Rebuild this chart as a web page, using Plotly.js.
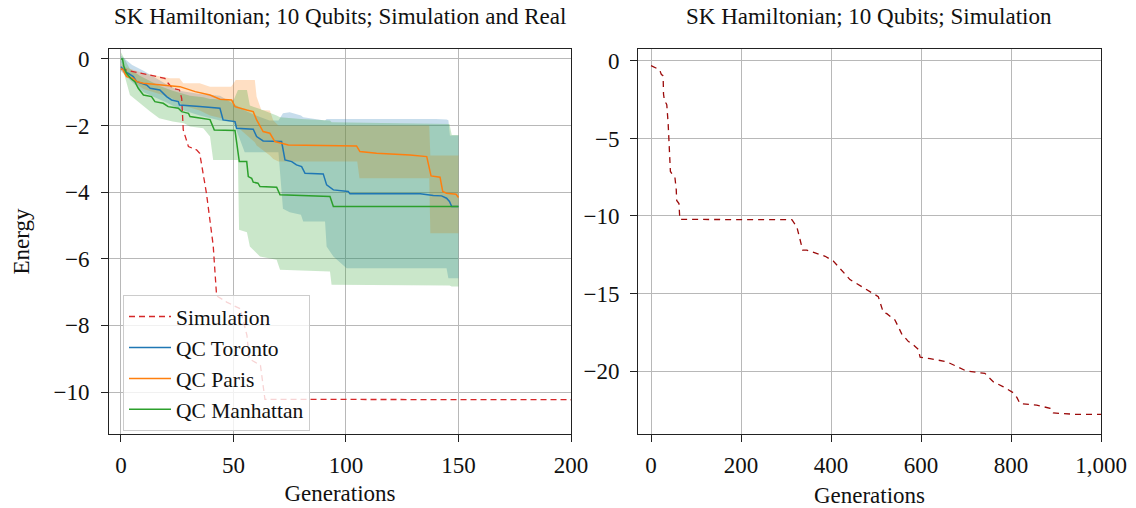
<!DOCTYPE html>
<html>
<head>
<meta charset="utf-8">
<script src="https://cdn.plot.ly/plotly-3.0.1.min.js"></script>
<style>html,body{margin:0;padding:0;background:#fff}#chart{width:1136px;height:508px}</style>
</head>
<body>
<div id="chart"></div>
<script>
// ---- Simulation (shared by both panels) ----
const simX = [0,5.5,13,19.5,21,23,26,27,27.7,30,33.6,35,38,41,42.5,43,47,53,56,57,62,64,313,324,337,346,387,405,442,487,505,516,524,542,557,572,579,594,598,620,657,679,701,742,761,782,805,813,820,857,887,894,946,1000];
const simY = [-0.3,-0.38,-0.48,-0.58,-0.73,-0.88,-0.93,-1.18,-2.13,-2.63,-2.73,-2.83,-4.03,-5.6,-7.1,-7.13,-7.3,-7.5,-8.3,-9.0,-9.2,-10.22,-10.24,-10.7,-12.2,-12.2,-12.6,-12.9,-14.1,-14.9,-15.2,-16.2,-16.3,-16.7,-17.6,-18.1,-18.2,-18.6,-19.1,-19.2,-19.4,-19.7,-20.0,-20.15,-20.7,-21.0,-21.4,-21.7,-22.1,-22.2,-22.4,-22.7,-22.8,-22.8];

// ---- QC Toronto ----
const torX = [0,1.8,3.3,5.5,7,11.4,13,17.3,20.3,22.5,25.5,26,35,44,45.4,50.7,51.4,58.8,60.3,63.2,71.4,72.9,75.9,78,80.3,81.8,89.9,91.4,94.4,96.6,101,101.8,133,138.8,142.5,144.7,146,147,150];
const torY = [-0.23,-0.38,-0.43,-0.53,-0.68,-0.78,-0.88,-0.93,-1.13,-1.23,-1.28,-1.38,-1.43,-1.48,-1.83,-1.88,-2.08,-2.11,-2.33,-2.46,-2.48,-3.03,-3.08,-3.18,-3.23,-3.43,-3.45,-3.78,-3.93,-3.95,-3.98,-4.05,-4.05,-4.1,-4.11,-4.18,-4.28,-4.43,-4.43];
const torBandX = [0,5,10,15,20,26,35,44,50,55,60,66,70,72,75,80,81,85,90,90.7,91.4,94.4,100.3,120,140,144.7,145.5,146.2,150];
const torUpper = [0.1,-0.18,-0.35,-0.55,-0.75,-0.95,-1.05,-1.1,-1.35,-1.55,-1.7,-1.85,-1.85,-1.63,-1.6,-1.7,-1.75,-1.8,-1.85,-1.85,-1.8,-1.8,-1.78,-1.78,-1.8,-1.82,-1.84,-2.3,-2.3];
const torLower = [-0.35,-0.7,-1.0,-1.15,-1.3,-1.5,-1.7,-1.85,-1.9,-2.8,-2.8,-2.8,-2.8,-4.5,-4.6,-4.68,-4.88,-4.88,-4.88,-4.88,-5.63,-5.93,-6.28,-6.28,-6.28,-6.28,-6.58,-6.58,-6.58];

// ---- QC Paris ----
const parX = [0,1,2.5,5.5,7,10,26.2,30.7,33,39.6,44,49.2,50.7,55.9,58.8,60.3,63.2,66.2,68.4,74.4,104.7,106.2,113.6,128.4,135.9,137.8,141.8,143,144.7,148.9,150];
const parY = [-0.28,-0.33,-0.53,-0.58,-0.68,-0.73,-0.83,-0.93,-0.98,-1.08,-1.21,-1.23,-1.43,-1.53,-1.58,-1.83,-2.18,-2.23,-2.48,-2.58,-2.61,-2.78,-2.83,-2.88,-2.93,-3.51,-3.55,-3.98,-4.03,-4.06,-4.16];
const parBandX = [0,2,10,21.8,26,27.7,35,39.6,49,50,51,59.5,60.3,62.4,66.2,67.7,70,105,106,137,137.5,150];
const parUpper = [-0.15,-0.25,-0.43,-0.58,-0.58,-0.73,-0.73,-0.83,-0.83,-0.73,-0.63,-0.63,-1.13,-1.53,-1.55,-1.85,-2.0,-2.0,-2.0,-2.0,-2.9,-2.9];
const parLower = [-0.35,-0.5,-0.9,-1.15,-1.3,-1.4,-1.55,-1.7,-1.85,-1.9,-2.0,-2.5,-2.6,-2.7,-2.9,-3.0,-3.08,-3.08,-3.58,-3.58,-5.23,-5.23];

// ---- QC Manhattan ----
const manX = [0,0.7,1.3,2.5,4.3,6.2,7.7,10,13.6,15.1,18.8,21,25.5,27,30,30.7,35,39.6,41.5,50.7,52.6,55.9,56.6,58.1,58.8,60.9,61.8,69.2,70.7,85.5,87,92.9,94.4,150];
const manY = [0,0,-0.23,-0.43,-0.58,-0.68,-0.88,-1.08,-1.13,-1.28,-1.33,-1.43,-1.48,-1.58,-1.63,-1.73,-1.77,-1.82,-2.13,-2.15,-3.08,-3.08,-3.53,-3.58,-3.7,-3.73,-3.83,-3.85,-4.08,-4.11,-4.13,-4.13,-4.43,-4.43];
const manBandX = [0,4,8.4,13,17,23,28,30.7,36.6,39.6,41,50,52,52.5,56,57.3,61.8,69.2,70.7,80,92.9,93.6,146,147,150];
const manUpper = [0.2,-0.3,-0.5,-0.65,-0.8,-0.95,-1.05,-1.1,-1.15,-1.2,-1.2,-1.25,-0.93,-0.93,-0.93,-1.4,-1.5,-1.7,-1.75,-1.8,-1.85,-1.9,-1.95,-2.28,-2.28];
const manLower = [-0.1,-1.08,-1.33,-1.58,-1.78,-1.88,-1.93,-2.03,-2.08,-2.33,-3.03,-3.03,-3.03,-5.13,-5.2,-5.63,-5.93,-6.03,-6.33,-6.35,-6.38,-6.78,-6.8,-6.83,-6.83];

const leftTicks = [0,50,100,150,200];
const rightTicks = [0,200,400,600,800,1000];

function band(x, up, lo, color) {
  return {
    x: x.concat(x.slice().reverse()),
    y: up.concat(lo.slice().reverse()),
    fill: 'toself', fillcolor: color, line: {width: 0}, mode: 'lines',
    hoverinfo: 'skip', showlegend: false, xaxis: 'x', yaxis: 'y'
  };
}

const FONT = 'Liberation Serif, Times New Roman, serif';
const FS = 23;

const traces = [
  band(torBandX, torUpper, torLower, 'rgba(31,119,180,0.25)'),
  band(parBandX, parUpper, parLower, 'rgba(255,127,14,0.25)'),
  band(manBandX, manUpper, manLower, 'rgba(44,160,44,0.25)'),
  {x: simX, y: simY, mode: 'lines', name: 'Simulation',
   line: {color: '#d62728', width: 1.3, dash: '6px,4px'}, xaxis: 'x', yaxis: 'y'},
  {x: torX, y: torY, mode: 'lines', name: 'QC Toronto',
   line: {color: '#1f77b4', width: 1.5}, xaxis: 'x', yaxis: 'y'},
  {x: parX, y: parY, mode: 'lines', name: 'QC Paris',
   line: {color: '#ff7f0e', width: 1.5}, xaxis: 'x', yaxis: 'y'},
  {x: manX, y: manY, mode: 'lines', name: 'QC Manhattan',
   line: {color: '#2ca02c', width: 1.5}, xaxis: 'x', yaxis: 'y'},
  {x: simX, y: simY, mode: 'lines', name: 'Simulation', showlegend: false,
   line: {color: '#9b0a0a', width: 1.3, dash: '6px,5px'}, xaxis: 'x2', yaxis: 'y2'}
];

const axisCommon = {
  showline: true, mirror: true, linecolor: '#222', linewidth: 1,
  ticks: 'outside', ticklen: 7, tickcolor: '#222', tickwidth: 1,
  showgrid: true, gridcolor: '#b8b8b8', gridwidth: 1, zeroline: false,
  tickfont: {family: FONT, size: FS, color: '#111'}
};

const layout = {
  width: 1136, height: 508,
  margin: {l: 0, r: 0, t: 49, b: 74},
  paper_bgcolor: '#fff', plot_bgcolor: '#fff',
  font: {family: FONT, color: '#111'},
  showlegend: true,
  legend: {
    x: 123/1136, y: (434-295)/385, xanchor: 'left', yanchor: 'top',
    bgcolor: 'rgba(255,255,255,0.8)', bordercolor: '#cccccc', borderwidth: 1,
    font: {family: FONT, size: 21.5, color: '#111'}, itemwidth: 42
  },
  xaxis: Object.assign({}, axisCommon, {
    domain: [109/1136, 571/1136], range: [-5.3, 200], anchor: 'y',
    tickvals: leftTicks, ticklabelstandoff: 3,
    title: {text: 'Generations', font: {family: FONT, size: FS}, standoff: 8}
  }),
  yaxis: Object.assign({}, axisCommon, {
    domain: [0, 1], range: [-11.26, 0.3], anchor: 'x', dtick: 2, ticklabelstandoff: 7,
    title: {text: 'Energy', font: {family: FONT, size: FS}, standoff: 17}
  }),
  xaxis2: Object.assign({}, axisCommon, {
    domain: [638/1136, 1101/1136], range: [-29, 1000], anchor: 'y2',
    tickvals: rightTicks, tickformat: ',', ticklabelstandoff: 3,
    title: {text: 'Generations', font: {family: FONT, size: FS}, standoff: 24}
  }),
  yaxis2: Object.assign({}, axisCommon, {
    domain: [0, 1], range: [-24.06, 0.77], anchor: 'x2', dtick: 5, ticklabelstandoff: 6
  }),
  annotations: [
    {text: 'SK Hamiltonian; 10 Qubits; Simulation and Real', xref: 'paper', yref: 'paper',
     x: 340/1136, y: 1 + (49-17)/385, xanchor: 'center', yanchor: 'middle', showarrow: false,
     font: {family: FONT, size: 23, color: '#111'}},
    {text: 'SK Hamiltonian; 10 Qubits; Simulation', xref: 'paper', yref: 'paper',
     x: 869/1136, y: 1 + (49-17)/385, xanchor: 'center', yanchor: 'middle', showarrow: false,
     font: {family: FONT, size: 23, color: '#111'}}
  ]
};

Plotly.newPlot('chart', traces, layout, {displayModeBar: false, staticPlot: true});
</script>
</body>
</html>
